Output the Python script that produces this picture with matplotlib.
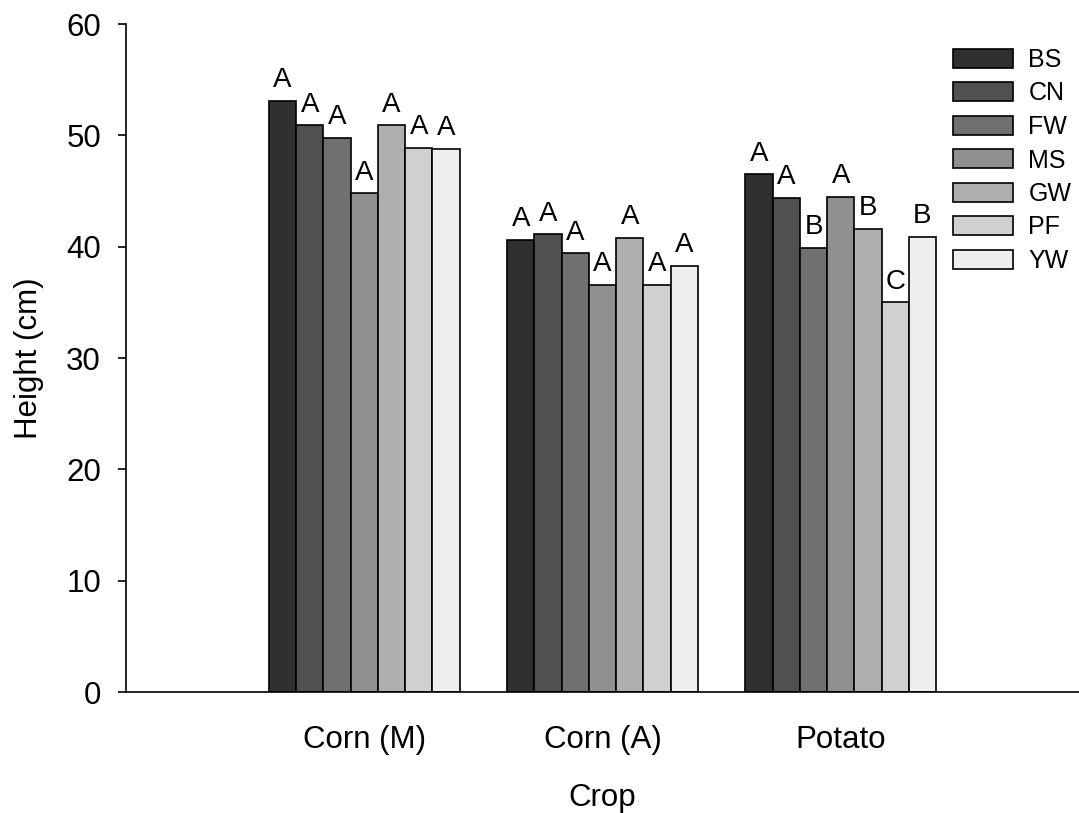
import matplotlib
matplotlib.use("Agg")
import matplotlib.pyplot as plt
import numpy as np

plt.rcParams['font.family'] = ['Liberation Sans', 'DejaVu Sans']

crops = ["Corn (M)", "Corn (A)", "Potato"]
series = ["BS", "CN", "FW", "MS", "GW", "PF", "YW"]
values = {
    "BS": [53.1, 40.6, 46.5],
    "CN": [50.9, 41.1, 44.4],
    "FW": [49.8, 39.4, 39.9],
    "MS": [44.8, 36.6, 44.5],
    "GW": [50.9, 40.8, 41.6],
    "PF": [48.9, 36.6, 35.0],
    "YW": [48.8, 38.3, 40.9],
}
letters = {
    "BS": ["A", "A", "A"],
    "CN": ["A", "A", "A"],
    "FW": ["A", "A", "B"],
    "MS": ["A", "A", "A"],
    "GW": ["A", "A", "B"],
    "PF": ["A", "A", "C"],
    "YW": ["A", "A", "B"],
}
colors = ["#303030", "#505050", "#707070", "#909090", "#afafaf", "#d0d0d0", "#eeeeee"]

fig = plt.figure(figsize=(10.79, 8.13), dpi=100)
ax = fig.add_axes([126/1079, 1-692/813, 1-126/1079, (692-24)/813])

x = np.arange(1, len(crops)+1)
n = len(series)
width = 0.8 / n
for i, s in enumerate(series):
    pos = x - 0.4 + width/2 + i*width
    bars = ax.bar(pos, values[s], width=width, color=colors[i], edgecolor="black",
                  linewidth=1.2, label=s)
    for b, lab in zip(bars, letters[s]):
        ax.annotate(lab, (b.get_x()+b.get_width()/2, b.get_height()),
                    xytext=(0, 5.5), textcoords="offset points",
                    ha="center", va="bottom", fontsize=20)

ax.set_xlim(0, 4)
ax.set_ylim(0, 60)
ax.set_xticks(x)
ax.set_xticklabels(crops)
ax.set_yticks(np.arange(0, 61, 10))
ax.spines['top'].set_visible(False)
ax.spines['right'].set_visible(False)
ax.spines['left'].set_linewidth(1.2)
ax.spines['bottom'].set_linewidth(1.2)
ax.tick_params(axis='x', length=0, pad=24, labelsize=22.5)
ax.tick_params(axis='y', length=6, width=1.2, pad=12, labelsize=22.5)
ax.set_xlabel("Crop", fontsize=22.5, labelpad=20)
ax.set_ylabel("Height (cm)", fontsize=22.5, labelpad=16)

leg = ax.legend(loc="upper left", bbox_to_anchor=(953/1079, 1-48/813),
                bbox_transform=fig.transFigure, frameon=False, fontsize=18,
                handlelength=2.4, handleheight=0.8, handletextpad=0.62,
                labelspacing=0.38, borderpad=0, borderaxespad=0)

fig.savefig("out.png", dpi=100)
